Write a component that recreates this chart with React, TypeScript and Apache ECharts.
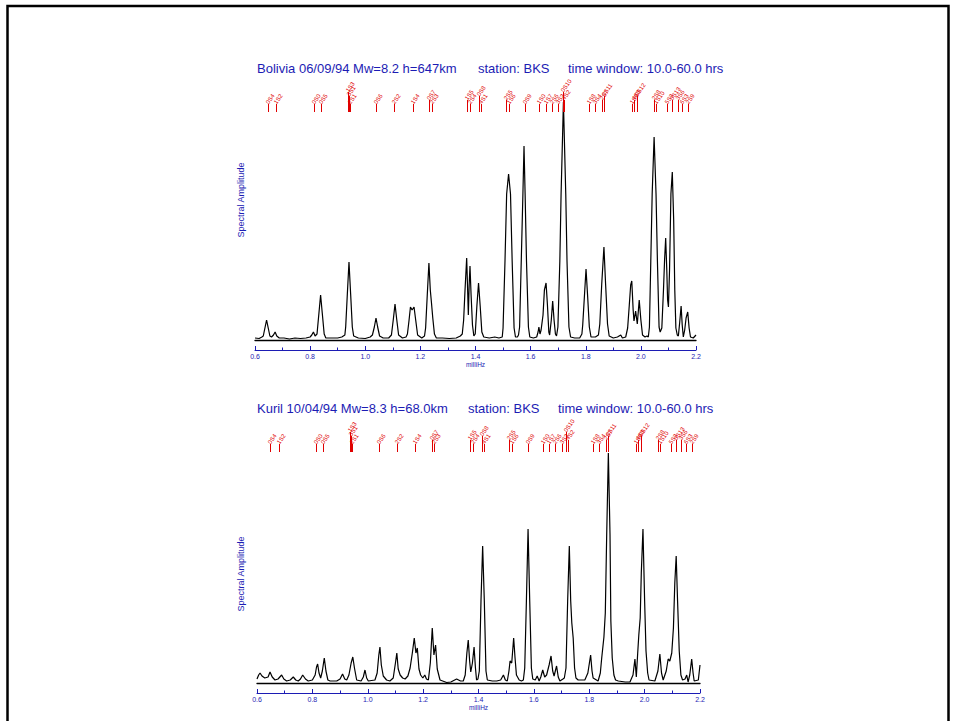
import React, { useEffect, useRef } from 'react';
import * as echarts from 'echarts';

// ---------- data ----------
const axisMin = 0.6;
const axisMax = 2.2;
const axisStep = 0.2;

const titleTop = ['Bolivia 06/09/94 Mw=8.2 h=647km', 'station: BKS', 'time window: 10.0-60.0 hrs'];
const titleBottom = ['Kuril 10/04/94 Mw=8.3 h=68.0km', 'station: BKS', 'time window: 10.0-60.0 hrs'];
const yAxisName = 'Spectral Amplitude';
const xAxisName = 'milliHz';

// mode identifications (name, frequency mHz, stacking level)
const modeNames = ['0S4', '1S2', '0S0', '0S5', '1S3', '3S1', '2S1', '0S6', '2S2', '1S4', '0S7', '2S3',
  '1S5', '2S4', '0S8', '4S1', '2S5', '1S6', '0S9', '1S0', '1S7', '2S6', '3S3', '0S10', '4S2',
  '1S8', '3S4', '2S7', '0S11', '1S9', '4S3', '0S12', '2S8', '1S10', '5S3', '0S13', '3S6', '6S3', '2S9'];
const modeFreqs = [0.646, 0.678, 0.814, 0.838, 0.937, 0.941, 0.943, 1.039, 1.106, 1.172, 1.231, 1.241,
  1.370, 1.380, 1.414, 1.421, 1.511, 1.520, 1.578, 1.632, 1.656, 1.678, 1.701, 1.716, 1.722,
  1.812, 1.834, 1.860, 1.867, 1.968, 1.976, 1.986, 2.049, 2.055, 2.094, 2.112, 2.133, 2.149, 2.170];
const modeLevels = [0, 0, 0, 0, 3, 2, 0, 0, 0, 0, 1, 0,
  1, 0, 2, 0, 1, 0, 0, 0, 0, 0, 0, 3, 1,
  0, 0, 1, 2, 0, 1, 2, 1, 0, 0, 1, 1, 0, 0];

// Bolivia spectrum: [frequency mHz, amplitude]
const boliviaSpectrum = [
  [0.600, 2], [0.615, 1.5], [0.625, 3],
  [0.630, 4], [0.636, 12], [0.642, 20], [0.648, 12], [0.654, 4],
  [0.660, 3], [0.667, 5], [0.673, 8], [0.679, 4], [0.688, 2],
  [0.705, 2], [0.725, 1], [0.745, 2], [0.765, 1.5], [0.785, 2], [0.800, 3],
  [0.806, 5], [0.812, 8], [0.818, 4],
  [0.825, 6], [0.832, 27], [0.838, 45], [0.844, 27], [0.851, 6], [0.857, 2],
  [0.875, 2], [0.900, 2], [0.915, 3],
  [0.926, 5], [0.929, 13], [0.935, 46], [0.941, 78], [0.947, 46], [0.953, 13], [0.958, 4],
  [0.975, 2], [1.000, 1.5], [1.018, 3],
  [1.026, 5], [1.033, 13], [1.039, 22], [1.045, 13], [1.052, 4],
  [1.065, 2], [1.085, 2],
  [1.095, 5], [1.102, 21], [1.108, 36], [1.114, 21], [1.121, 5],
  [1.135, 2], [1.148, 3],
  [1.153, 6], [1.159, 20], [1.164, 33], [1.170, 30], [1.177, 33], [1.183, 20], [1.190, 5],
  [1.205, 2], [1.215, 4],
  [1.219, 12], [1.225, 45], [1.231, 77], [1.236, 50], [1.240, 38], [1.245, 22], [1.251, 6], [1.258, 2],
  [1.280, 2], [1.305, 1.5], [1.330, 2], [1.345, 4],
  [1.352, 6], [1.357, 20], [1.362, 50], [1.368, 82], [1.372, 45], [1.374, 25], [1.377, 55], [1.380, 74],
  [1.384, 45], [1.389, 15], [1.394, 4],
  [1.399, 6], [1.405, 34], [1.411, 57], [1.417, 34], [1.423, 8], [1.430, 3],
  [1.450, 2], [1.470, 3], [1.485, 2],
  [1.497, 3], [1.500, 12], [1.507, 79], [1.513, 146], [1.520, 166], [1.527, 146], [1.533, 79], [1.540, 12],
  [1.545, 3], [1.552, 3],
  [1.556, 5], [1.560, 13], [1.566, 79], [1.572, 146], [1.576, 194], [1.580, 146], [1.585, 79], [1.592, 13],
  [1.597, 3], [1.610, 2], [1.622, 3],
  [1.627, 8], [1.630, 13], [1.634, 6], [1.638, 10],
  [1.645, 25], [1.650, 50], [1.656, 57], [1.661, 35], [1.666, 8], [1.669, 5],
  [1.675, 20], [1.680, 39], [1.685, 20], [1.690, 6], [1.694, 4],
  [1.699, 13], [1.706, 79], [1.7105, 146], [1.719, 238], [1.7275, 146], [1.732, 79], [1.739, 13], [1.745, 3],
  [1.760, 2], [1.778, 2],
  [1.786, 6], [1.789, 15], [1.795, 43], [1.801, 71], [1.807, 43], [1.813, 13], [1.819, 3],
  [1.835, 3],
  [1.846, 5], [1.851, 16], [1.858, 56], [1.866, 93], [1.872, 56], [1.879, 16], [1.885, 4],
  [1.900, 2], [1.915, 3], [1.927, 5], [1.933, 2], [1.945, 3],
  [1.952, 12], [1.958, 35], [1.963, 55], [1.967, 59], [1.972, 30], [1.975, 19], [1.981, 29], [1.987, 16],
  [1.994, 40], [2.000, 20], [2.006, 5], [2.015, 3], [2.022, 4],
  [2.027, 3], [2.031, 13], [2.036, 79], [2.041, 146], [2.048, 203], [2.055, 146], [2.060, 79], [2.066, 13],
  [2.070, 8],
  [2.076, 12], [2.082, 50], [2.086, 80], [2.090, 102], [2.094, 70], [2.097, 40], [2.100, 33],
  [2.104, 70], [2.109, 146], [2.114, 168], [2.119, 120], [2.123, 50], [2.127, 12], [2.132, 5],
  [2.136, 4], [2.141, 18], [2.146, 34], [2.150, 15], [2.154, 3], [2.159, 10], [2.164, 22], [2.170, 28],
  [2.175, 12], [2.180, 3], [2.190, 2], [2.200, 5],
];

// Kuril spectrum: [frequency mHz, amplitude]
const kurilSpectrum = [
  [0.600, 4], [0.606, 8], [0.611, 10], [0.618, 7], [0.628, 5], [0.640, 6], [0.647, 11], [0.655, 6],
  [0.665, 3], [0.676, 4], [0.689, 8], [0.697, 4], [0.707, 2], [0.720, 3], [0.731, 6], [0.740, 3],
  [0.749, 2], [0.757, 4], [0.765, 8], [0.775, 4], [0.785, 2], [0.800, 3],
  [0.810, 8], [0.815, 16], [0.819, 19], [0.824, 10], [0.830, 5], [0.836, 12], [0.843, 25], [0.849, 12],
  [0.856, 3], [0.864, 2], [0.878, 2], [0.888, 2], [0.900, 4], [0.909, 9], [0.917, 4], [0.924, 3],
  [0.932, 8], [0.940, 20], [0.946, 26], [0.952, 15], [0.960, 3], [0.976, 2], [0.984, 6], [0.990, 13],
  [0.996, 5], [1.002, 2], [1.026, 3], [1.034, 10], [1.040, 28], [1.044, 36], [1.049, 18], [1.056, 7],
  [1.068, 3], [1.080, 2], [1.092, 5], [1.100, 20], [1.105, 30], [1.110, 14], [1.117, 8], [1.126, 5],
  [1.135, 4], [1.145, 7], [1.153, 15], [1.161, 30], [1.168, 45], [1.174, 30], [1.179, 35], [1.185, 14],
  [1.191, 8], [1.199, 5], [1.206, 8], [1.212, 4], [1.219, 3], [1.226, 20], [1.233, 55], [1.239, 28],
  [1.245, 38], [1.251, 14], [1.261, 3], [1.285, 0.5], [1.300, 1], [1.321, 4], [1.335, 2], [1.345, 2],
  [1.352, 8], [1.358, 30], [1.363, 43], [1.368, 22], [1.372, 11], [1.378, 20], [1.384, 36], [1.389, 15],
  [1.393, 3], [1.398, 4],
  [1.403, 12], [1.409, 82], [1.415, 137], [1.421, 82], [1.427, 12], [1.432, 3],
  [1.450, 2], [1.466, 2], [1.480, 3], [1.490, 8], [1.497, 3], [1.504, 2], [1.510, 12], [1.514, 22],
  [1.520, 20], [1.527, 45], [1.532, 25], [1.537, 8], [1.547, 3], [1.555, 2],
  [1.562, 3], [1.567, 15], [1.573, 82], [1.579, 154], [1.585, 82], [1.591, 15], [1.596, 4],
  [1.605, 3], [1.612, 7], [1.619, 2], [1.625, 6], [1.632, 13], [1.639, 6], [1.646, 8], [1.655, 18],
  [1.662, 27], [1.668, 12], [1.673, 7], [1.682, 17], [1.688, 6], [1.694, 2], [1.705, 4],
  [1.710, 5], [1.716, 15], [1.722, 82], [1.728, 137], [1.733, 82], [1.737, 60], [1.742, 45], [1.747, 15],
  [1.752, 5], [1.760, 3], [1.784, 3], [1.795, 10], [1.805, 28], [1.810, 12], [1.814, 5], [1.832, 2],
  [1.840, 10], [1.845, 25], [1.853, 46], [1.858, 70], [1.863, 148], [1.869, 230], [1.875, 148],
  [1.878, 62], [1.883, 25], [1.889, 8], [1.895, 3], [1.905, 2], [1.930, 1], [1.947, 1],
  [1.958, 8], [1.965, 24], [1.970, 6], [1.975, 30], [1.979, 48], [1.984, 65], [1.988, 110], [1.994, 154],
  [2.000, 82], [2.005, 32], [2.011, 10], [2.016, 3], [2.037, 2], [2.048, 12], [2.055, 29], [2.061, 10],
  [2.067, 3], [2.078, 12], [2.085, 24], [2.091, 22], [2.098, 30], [2.104, 55], [2.109, 100], [2.114, 127],
  [2.119, 82], [2.125, 32], [2.131, 8], [2.137, 3], [2.146, 4], [2.152, 8], [2.157, 1], [2.163, 8],
  [2.170, 24], [2.175, 10], [2.179, 2], [2.194, 3], [2.200, 18],
];

// ---------- styling ----------
const BLUE = '#1c1cb4';
const RED = '#e00000';
const FONT = 'Liberation Sans, Arial, Helvetica, sans-serif';

const blueAxis = (gridIndex: number) => ({
  type: 'value',
  gridIndex,
  min: axisMin,
  max: axisMax,
  interval: axisStep,
  position: 'bottom',
  offset: 10,
  axisLine: { show: true, onZero: false, lineStyle: { color: BLUE, width: 1 } },
  axisTick: { show: true, inside: true, length: 4, lineStyle: { color: BLUE, width: 1 } },
  minorTick: { show: true, splitNumber: 2, length: 2.5, lineStyle: { color: BLUE, width: 1 } },
  splitLine: { show: false },
  minorSplitLine: { show: false },
  axisLabel: {
    color: BLUE, fontSize: 7, margin: 3, fontFamily: FONT,
    formatter: (v: number) => v.toFixed(1),
  },
  name: xAxisName,
  nameLocation: 'middle',
  nameGap: 11,
  nameTextStyle: { color: BLUE, fontSize: 6.5, fontFamily: FONT },
});

const baseAxis = (gridIndex: number) => ({
  type: 'value',
  gridIndex,
  min: axisMin,
  max: axisMax,
  position: 'bottom',
  offset: 0,
  axisLine: { show: true, onZero: false, lineStyle: { color: '#000', width: 1.3 } },
  axisTick: { show: false },
  axisLabel: { show: false },
  splitLine: { show: false },
});

const modeSeries = (gridIndex: number, stemBottom: number) => ({
  type: 'custom',
  xAxisIndex: gridIndex * 2,
  yAxisIndex: gridIndex,
  clip: false,
  silent: true,
  z: 5,
  data: modeFreqs.map((f, i) => [f, modeLevels[i]]),
  renderItem: (params: any, api: any) => {
    const f = api.value(0);
    const lvl = api.value(1);
    const x = Math.round(api.coord([f, 0])[0]) + 0.5;
    const cs = params.coordSys;
    const yb = cs.y + stemBottom;
    const yt = yb - 8 - lvl * 4;
    return {
      type: 'group',
      children: [
        { type: 'line', shape: { x1: x, y1: yb, x2: x, y2: yt }, style: { stroke: RED, lineWidth: 1 } },
        {
          type: 'text', x: x + 1, y: yt + 1, rotation: 0.95,
          style: {
            text: modeNames[params.dataIndex], fontSize: 6, fill: RED, fontFamily: FONT,
            align: 'left', verticalAlign: 'bottom',
          },
        },
      ],
    };
  },
});

const spectrumSeries = (gridIndex: number, data: number[][]) => ({
  type: 'line',
  xAxisIndex: gridIndex * 2,
  yAxisIndex: gridIndex,
  data,
  showSymbol: false,
  symbol: 'none',
  clip: false,
  lineStyle: { color: '#000', width: 1.2 },
  z: 3,
});

const titleTexts = (parts: string[], xs: number[], y: number) =>
  parts.map((t, i) => ({
    type: 'text',
    x: xs[i],
    y,
    style: { text: t, fill: BLUE, fontSize: 13, fontFamily: FONT, verticalAlign: 'middle', align: 'left' },
  }));

export default function App() {
  const ref = useRef<HTMLDivElement>(null);
  useEffect(() => {
    if (!ref.current) return;
    const chart = echarts.init(ref.current, undefined, { renderer: 'svg' });
    chart.setOption({
      animation: false,
      backgroundColor: '#fff',
      grid: [
        { left: 255, right: 260, top: 90, bottom: 381 },
        { left: 257, right: 256, top: 433, bottom: 38 },
      ],
      xAxis: [blueAxis(0), baseAxis(0), blueAxis(1), baseAxis(1)],
      yAxis: [
        { type: 'value', gridIndex: 0, min: 0, max: 250, show: false },
        { type: 'value', gridIndex: 1, min: 0, max: 250, show: false },
      ],
      series: [
        spectrumSeries(0, boliviaSpectrum),
        spectrumSeries(1, kurilSpectrum),
        modeSeries(0, 22),
        modeSeries(1, 19),
      ],
      graphic: [
        {
          type: 'rect',
          shape: { x: 7.5, y: 6, width: 941, height: 740 },
          style: { fill: 'none', stroke: '#000', lineWidth: 2.5 },
          silent: true,
        },
        ...titleTexts(titleTop, [257, 478, 568], 68),
        ...titleTexts(titleBottom, [257, 468, 558], 408),
        {
          type: 'text', x: 241, y: 200, rotation: Math.PI / 2,
          style: { text: yAxisName, fill: BLUE, fontSize: 9, fontFamily: FONT, align: 'center', verticalAlign: 'middle' },
        },
        {
          type: 'text', x: 241, y: 574, rotation: Math.PI / 2,
          style: { text: yAxisName, fill: BLUE, fontSize: 9, fontFamily: FONT, align: 'center', verticalAlign: 'middle' },
        },
      ],
    });
    return () => chart.dispose();
  }, []);
  return (
    <div
      ref={ref}
      style={{ position: 'fixed', left: 0, top: 0, width: 956, height: 721 }}
    />
  );
}
